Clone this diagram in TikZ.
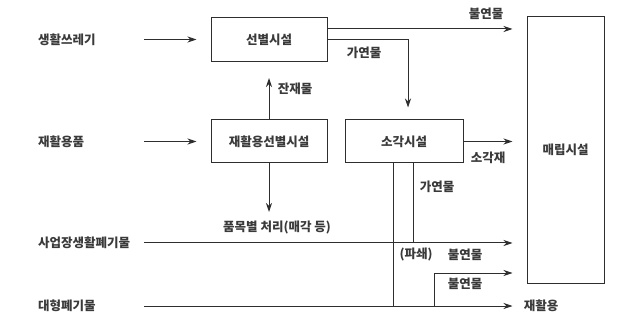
\documentclass[tikz,border=0pt]{standalone}
\usepackage{fontspec}
\setmainfont{Noto Sans CJK KR}
\usetikzlibrary{arrows.meta}
\definecolor{linegray}{HTML}{2E2E2E}
\definecolor{textgray}{HTML}{3A3A3A}

\begin{document}
\begin{tikzpicture}[x=1pt, y=-1pt, >={Stealth[length=9pt,width=6pt]},
    box/.style={draw=linegray, line width=1pt, minimum width=116pt, minimum height=44pt, inner sep=0pt, text=textgray, font=\fontsize{12.5}{14}\selectfont\bfseries},
    lbl/.style={text=textgray, font=\fontsize{12.5}{14}\selectfont\bfseries, inner sep=0pt},
    flow/.style={draw=linegray, line width=1pt}]

    \useasboundingbox (0,0) rectangle (640,323);

    % 시설 상자
    \node[box] (sort) at (269,39.5) {선별시설};
    \node[box, minimum height=43pt] (resort) at (269,141.5) {재활용선별시설};
    \node[box, minimum width=118pt, minimum height=43pt] (incin) at (404,141.5) {소각시설};
    \node[box, minimum width=77pt, minimum height=266pt] (land) at (565.5,150) {매립시설};

    % 왼쪽의 폐기물 이름
    \node[lbl, anchor=west] (house) at (38,39.5) {생활쓰레기};
    \node[lbl, anchor=west] (goods) at (38,141.5) {재활용품};
    \node[lbl, anchor=west] (biz) at (38,243) {사업장생활폐기물};
    \node[lbl, anchor=west] (bulky) at (38,306) {대형폐기물};

    % 흐름의 시작점과 꺾이는 점
    \coordinate (in1) at (144,39.5);
    \coordinate (in2) at (144,141.5);
    \coordinate (in3) at (144,243);
    \coordinate (in4) at (144,306);
    \coordinate (nf1) at (327,29);
    \coordinate (cb1) at (408,39.5);
    \coordinate (v1) at (393,306);
    \coordinate (v2) at (413,243);
    \coordinate (br1) at (434,306);
    \coordinate (br2) at (434,273);
    \coordinate (down) at (269,212);

    % 위쪽 흐름
    \draw[flow, ->, shorten >=14pt] (in1) -- (in1 -| sort.west);
    \draw[flow, ->, shorten >=14pt] (in2) -- (in2 -| resort.west);
    \draw[flow, ->, shorten >=14pt] (nf1) -- (nf1 -| land.west);
    \draw[flow, ->, shorten >=12pt] (sort.east) -- (cb1) -- (cb1 |- incin.north);
    \draw[flow, ->, shorten >=16pt] (resort.north) -- (sort.south);
    \draw[flow, ->] (resort.south) -- (down);
    \draw[flow, ->, shorten >=14pt] (incin.east) -- (land.west |- incin.east);

    % 아래쪽 흐름
    \draw[flow, ->, shorten >=14pt] (in3) -- (in3 -| land.west);
    \draw[flow, ->, shorten >=14pt] (in4) -- (in4 -| land.west);
    \draw[flow] (v1 |- incin.south) -- (v1);
    \draw[flow] (v2 |- incin.south) -- (v2);
    \draw[flow, ->, shorten >=14pt] (br1) -- (br2) -- (br2 -| land.west);

    % 흐름의 이름
    \node[lbl] (nf1lbl) at (486,14) {불연물};
    \node[lbl] (cb1lbl) at (364,53) {가연물};
    \node[lbl] (rest) at (295,89) {잔재물};
    \node[lbl] (ash) at (488,158) {소각재};
    \node[lbl] (sell) at (277,228) {품목별 처리(매각 등)};
    \node[lbl] (cb2lbl) at (437,187) {가연물};
    \node[lbl] (crush) at (416,255) {(파쇄)};
    \node[lbl] (nf2lbl) at (465,255) {불연물};
    \node[lbl] (nf3lbl) at (465,284) {불연물};
    \node[lbl] (reuse) at (541,306) {재활용};
\end{tikzpicture}
\end{document}
